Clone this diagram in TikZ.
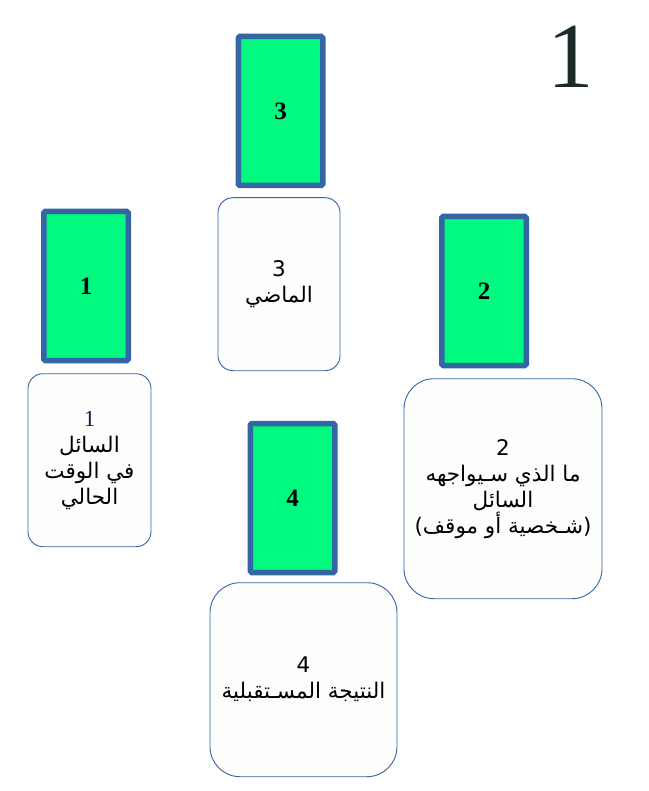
\documentclass[tikz,border=0pt]{standalone}
\usepackage{fontspec}
\setmainfont{Liberation Serif}
\newfontfamily\arabicfont[Script=Arabic]{DejaVu Sans}
\newfontfamily\digitfont{DejaVu Sans}
\TeXXeTstate=1
\usetikzlibrary{positioning}
\definecolor{cardgreen}{RGB}{0,250,127}
\definecolor{cardblue}{RGB}{52,101,164}
\definecolor{boxfill}{RGB}{253,253,251}
\definecolor{bigdigit}{RGB}{28,42,42}
\definecolor{navydigit}{RGB}{20,32,80}

\begin{document}
\begin{tikzpicture}[x=1pt,y=-1pt,
  card/.style={draw=cardblue,line width=5.5pt,fill=cardgreen,rounded corners=1.5pt,minimum width=84.5pt,minimum height=149pt,inner sep=0pt,font=\fontsize{25}{25}\selectfont\bfseries},
  textbox/.style={draw=cardblue,line width=0.9pt,fill=boxfill,inner sep=0pt,align=center,font=\fontsize{21.5}{26}\selectfont}]
\useasboundingbox (0,0) rectangle (648,791);
\node[font=\fontsize{93}{93}\selectfont,text=bigdigit] (title) at (570.5,56.5) {1};
% cards
\node[card] (c1) at (86,286) {1};
\node[card] (c3) at (280.5,111) {3};
\node[card] (c2) at (484,291) {2};
\node[card] (c4) at (292.5,498) {4};
% meaning of each position
\node[textbox,rounded corners=15pt,minimum width=123pt,minimum height=173pt,below=10pt of c1,xshift=3.5pt] (t1)
  {{\fontsize{23}{26}\selectfont\color{navydigit}1}\\ \arabicfont\beginR السائل\endR\\ \arabicfont\beginR في الوقت\endR\\ \arabicfont\beginR الحالي\endR};
\node[textbox,rounded corners=15pt,minimum width=122pt,minimum height=173pt,below=9pt of c3,xshift=-1.5pt] (t3)
  {\digitfont 3\\ \arabicfont\beginR الماضي\endR};
\node[textbox,rounded corners=30pt,minimum width=198pt,minimum height=220pt,below=10pt of c2,xshift=19pt] (t2)
  {\digitfont 2\\ \arabicfont\beginR ما الذي سـيواجهه\endR\\ \arabicfont\beginR السائل\endR\\ \arabicfont\beginR (شـخصية أو موقف)\endR};
\node[textbox,rounded corners=30pt,minimum width=187pt,minimum height=194pt,below=7pt of c4,xshift=11pt] (t4)
  {\digitfont 4\\ \arabicfont\beginR النتيجة المسـتقبلية\endR};
\end{tikzpicture}
\end{document}
